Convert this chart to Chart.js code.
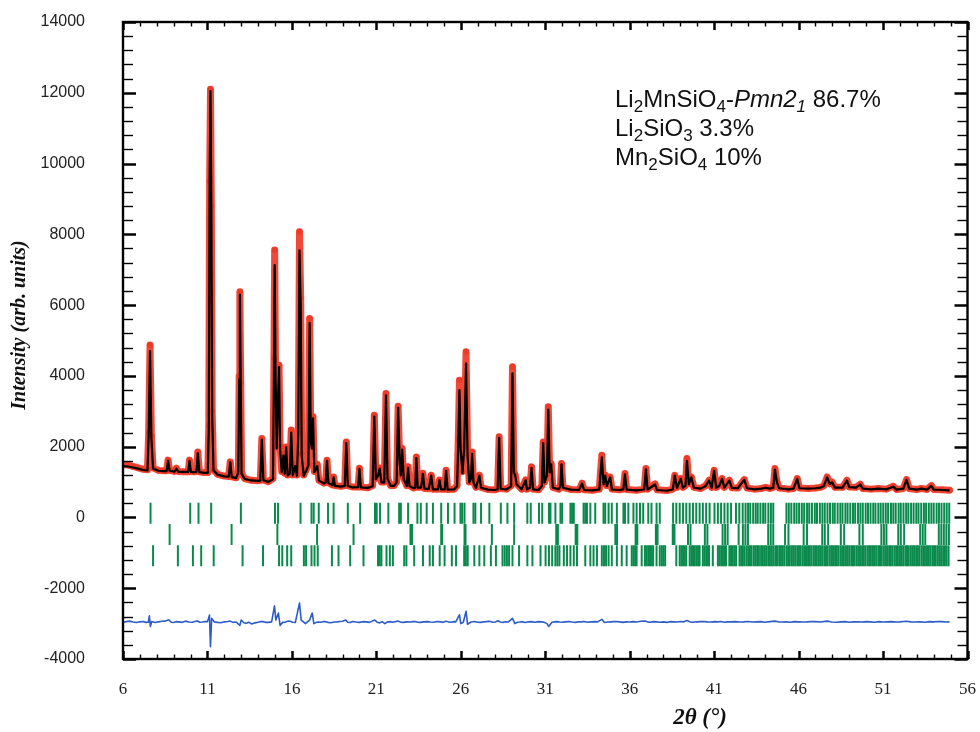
<!DOCTYPE html>
<html><head><meta charset="utf-8">
<script src="https://cdn.jsdelivr.net/npm/chart.js@4/dist/chart.umd.min.js"></script>
<style>html,body{margin:0;padding:0;background:#fff;}canvas{display:block;}</style>
</head><body>
<canvas id="c" width="980" height="732"></canvas>
<script>
// ---- data ----
const twoTheta = [
 6.00,6.30,6.60,6.90,7.20,7.45,7.52,7.60,7.68,7.78,
 8.10,8.40,8.58,8.67,8.76,9.05,9.16,9.27,9.60,9.86,
 9.94,10.02,10.20,10.35,10.43,10.52,10.80,11.02,11.08,11.13,
 11.18,11.23,11.28,11.36,11.60,12.00,12.26,12.35,12.44,12.70,
 12.83,12.88,12.92,12.97,13.02,13.20,13.60,14.00,14.13,14.22,
 14.31,14.60,14.88,14.94,14.98,15.03,15.10,15.17,15.24,15.30,
 15.40,15.50,15.58,15.66,15.75,15.88,15.96,16.05,16.20,16.30,
 16.38,16.45,16.52,16.58,16.70,16.85,16.98,17.05,17.12,17.18,
 17.25,17.33,17.50,17.60,17.90,18.00,18.08,18.16,18.40,18.47,
 18.55,18.90,19.13,19.22,19.31,19.60,19.92,20.00,20.08,20.50,
 20.78,20.88,20.97,21.10,21.20,21.30,21.47,21.57,21.66,21.85,
 22.05,22.20,22.29,22.38,22.45,22.53,22.62,22.80,22.88,22.96,
 23.20,23.30,23.37,23.45,23.65,23.76,23.85,24.10,24.25,24.35,
 24.65,24.74,24.83,25.05,25.13,25.22,25.60,25.78,25.85,25.92,
 25.99,26.10,26.20,26.31,26.40,26.50,26.60,26.67,26.75,26.90,
 27.10,27.20,27.60,28.00,28.18,28.27,28.36,28.70,28.98,29.06,
 29.14,29.22,29.30,29.60,29.84,29.92,30.10,30.19,30.28,30.60,
 30.80,30.88,30.96,31.10,31.18,31.26,31.35,31.45,31.80,31.90,
 31.96,32.05,32.50,33.00,33.18,33.30,33.80,34.20,34.35,34.45,
 34.55,34.65,34.84,34.95,35.40,35.62,35.72,35.82,36.40,36.86,
 36.96,37.06,37.50,37.62,38.20,38.55,38.67,38.80,39.02,39.15,
 39.30,39.39,39.50,39.65,39.80,40.20,40.50,40.70,40.85,41.00,
 41.12,41.30,41.47,41.60,41.90,42.05,42.40,42.78,42.95,43.40,
 43.80,44.06,44.30,44.50,44.60,44.72,44.85,45.40,45.70,45.92,
 46.05,46.60,47.00,47.30,47.50,47.69,47.85,47.98,48.15,48.60,
 48.86,49.00,49.40,49.65,49.80,50.30,50.72,51.20,51.60,51.80,
 52.20,52.39,52.55,53.00,53.27,53.60,53.86,54.00,54.50,54.94
];
const observed = [
 1500,1480,1440,1400,1360,1350,2400,4870,2300,1400,
 1330,1320,1320,1620,1330,1300,1390,1300,1290,1290,
 1620,1300,1290,1300,1850,1290,1270,1270,2600,9500,
 12100,8800,3000,1350,1220,1170,1160,1570,1150,1120,
 1300,4000,6380,3800,1250,1100,1050,1040,1050,2230,
 1060,1010,1100,4500,7560,4200,2000,3300,4300,2000,
 1300,1800,1250,1990,1200,1250,2470,1200,1500,1200,
 2500,8070,6200,1800,1200,1350,1500,5625,2200,2000,
 2843,1300,1500,1050,970,1000,1617,980,920,1145,
 900,880,900,2135,900,860,860,1390,860,840,
 900,2890,1100,1200,1400,1000,1000,3504,1100,900,
 900,1000,3145,1600,1200,1950,1100,900,1430,900,
 830,850,1710,850,850,1250,820,810,1194,800,
 800,1060,800,800,1335,790,800,900,2200,3880,
 2000,1300,2000,4681,1800,1000,1100,1852,1000,850,
 1194,850,790,780,800,2277,820,800,900,4257,
 1300,1200,950,800,1060,800,850,1429,800,780,
 900,2135,1000,1200,3126,1300,1523,850,800,900,
 1523,850,790,780,970,780,770,800,1759,950,
 1200,900,1145,800,780,800,1240,790,770,800,
 1382,800,950,780,760,800,1194,850,1100,850,
 900,1664,950,1145,850,820,900,1050,850,1335,
 850,900,1100,850,1050,840,830,1070,830,800,
 820,850,820,850,1382,1000,830,800,820,1100,
 830,820,830,850,900,1145,950,1000,850,850,
 1050,860,850,940,820,800,820,800,880,790,
 820,1070,820,790,820,790,900,790,780,770
];
const calculated = [
 1450,1440,1410,1380,1340,1330,2300,4700,2250,1380,
 1320,1310,1310,1600,1320,1295,1380,1290,1285,1285,
 1600,1290,1280,1290,1820,1280,1260,1260,2500,9600,
 12050,8700,2900,1330,1210,1160,1150,1560,1140,1110,
 1280,3900,6300,3700,1230,1090,1045,1035,1040,2200,
 1050,1005,1080,4300,7130,4100,1950,3250,4250,1950,
 1280,1750,1240,1980,1190,1240,2400,1190,1450,1180,
 2400,7550,6000,1750,1180,1320,1480,5500,2150,1950,
 2800,1280,1450,1040,960,990,1600,970,910,1130,
 890,870,890,2100,890,850,855,1370,850,835,
 880,2850,1080,1180,1380,990,990,3450,1090,890,
 890,990,3100,1580,1190,1920,1090,890,1400,890,
 825,840,1680,840,840,1230,815,805,1180,795,
 795,1050,795,795,1320,785,790,880,2100,3600,
 1900,1250,1950,4353,1750,990,1090,1800,990,840,
 1180,840,785,775,790,2250,810,790,880,4070,
 1280,1190,940,795,1050,795,840,1400,795,775,
 890,2100,990,1180,3050,1280,1500,840,795,890,
 1500,840,785,775,960,775,765,790,1700,940,
 1180,890,1130,790,775,795,1220,785,765,790,
 1360,790,930,775,755,790,1180,840,1090,840,
 890,1600,940,1130,840,815,890,1040,840,1320,
 840,890,1090,845,1040,835,825,1060,825,795,
 815,840,815,840,1350,990,825,795,815,1090,
 825,815,825,845,890,1130,940,990,845,845,
 1040,855,845,930,815,795,815,795,870,785,
 815,1060,815,785,815,785,890,785,775,765
];
const diffTwoTheta = [
 6.0,6.2,6.4,6.6,6.8,7.0,7.2,7.35,7.5,7.56,7.62,7.7,7.9,8.1,8.3,8.5,8.7,8.85,9.0,9.15,9.3,9.5,9.7,9.9,10.1,10.25,10.4,10.55,10.7,10.85,
 11.0,11.12,11.18,11.25,11.4,11.6,11.8,12.0,12.2,12.35,12.5,12.7,12.92,13.0,13.15,13.3,13.45,13.6,13.8,14.0,14.15,14.3,14.45,14.6,14.8,
 14.97,15.05,15.2,15.3,15.45,15.6,15.75,15.9,16.05,16.2,16.45,16.55,16.7,16.8,16.95,17.05,17.2,17.3,17.5,17.7,17.85,
 18.0,18.15,18.3,18.5,18.7,18.85,19.0,19.2,19.3,19.45,19.6,19.8,20.0,20.2,20.4,20.6,20.9,21.05,21.2,21.35,21.5,21.65,21.8,22.0,22.15,22.3,22.45,22.6,22.8,
 23.0,23.15,23.3,23.45,23.6,23.8,24.0,24.2,24.4,24.6,24.8,24.95,25.1,25.25,25.4,25.55,25.7,25.92,26.0,26.15,26.31,26.4,26.6,26.8,27.0,
 27.2,27.35,27.5,27.7,27.9,28.05,28.2,28.35,28.5,28.65,28.8,29.06,29.2,29.35,29.5,29.65,29.8,29.95,30.1,30.25,30.4,30.6,30.8,30.95,31.1,31.2,31.4,31.55,
 31.7,31.85,32.0,32.2,32.4,32.6,32.8,32.95,33.1,33.3,33.5,33.7,33.9,34.1,34.35,34.5,34.7,34.9,35.05,35.2,35.4,35.6,35.8,36.0,36.2,36.4,36.65,36.9,
 37.05,37.2,37.4,37.6,37.8,38.0,38.2,38.4,38.6,38.8,39.0,39.2,39.4,39.55,39.7,39.85,40.0,40.2,40.4,40.6,40.8,41.0,41.2,41.4,41.6,41.8,42.0,42.25,42.5,42.75,43.0,43.25,43.5,43.75,
 44.0,44.3,44.6,44.8,45.0,45.25,45.5,45.75,46.0,46.25,46.5,46.75,47.0,47.3,47.7,47.9,48.0,48.25,48.5,48.75,49.0,49.25,49.5,49.75,50.0,50.25,50.5,50.75,51.0,
 51.25,51.5,51.75,52.0,52.2,52.4,52.65,52.9,53.2,53.5,53.75,54.0,54.25,54.5,54.7,54.94
];
const difference = [
 -2960,-2945,-2930,-2955,-2970,-2950,-2940,-2965,-2960,-2780,-3080,-2940,-2970,-2950,-2935,-2930,-2890,-2960,-2970,-2945,-2950,-2965,-2930,-2955,-2960,-2940,-2925,-2960,-2955,-2940,
 -2945,-2760,-3650,-2850,-2950,-2965,-2975,-2950,-2940,-2930,-2965,-2955,-3050,-2900,-2975,-2990,-2960,-3010,-2980,-2960,-2940,-2945,-2965,-2965,-2950,
 -2500,-2900,-2700,-3050,-2965,-2960,-2930,-2935,-2960,-2970,-2420,-2900,-2960,-3000,-2940,-2900,-2700,-3000,-2955,-2960,-2945,
 -2945,-2965,-2975,-2955,-2950,-2940,-2935,-2900,-2960,-2970,-2940,-2955,-2965,-2945,-2950,-2965,-2900,-2960,-2980,-2945,-3000,-2955,-2945,-2960,-2940,-2930,-2960,-2965,-2950,
 -2955,-2945,-2940,-2960,-2965,-2950,-2945,-2955,-2960,-2940,-2950,-2965,-2935,-2950,-2960,-2945,-2950,-2750,-3000,-2960,-2650,-3020,-2955,-2940,-2960,
 -2965,-2950,-2945,-2935,-2960,-2955,-2920,-2955,-2965,-2950,-2955,-2850,-3000,-2960,-2955,-2945,-2970,-2955,-2945,-2950,-2960,-2945,-2950,-2965,-3000,-3080,-2960,-2950,
 -2945,-2955,-2960,-2950,-2940,-2955,-2965,-2950,-2950,-2940,-2960,-2950,-2945,-2950,-2880,-2970,-2955,-2950,-2945,-2940,-2950,-2965,-2950,-2955,-2945,-2955,-2935,-2925,
 -2950,-2960,-2945,-2950,-2960,-2950,-2965,-2945,-2950,-2955,-2940,-2950,-2915,-2945,-2960,-2955,-2950,-2945,-2940,-2950,-2955,-2945,-2950,-2940,-2960,-2950,-2950,-2945,-2955,-2950,-2940,-2955,-2950,-2945,
 -2960,-2945,-2930,-2950,-2955,-2950,-2960,-2945,-2950,-2955,-2950,-2940,-2945,-2955,-2930,-2950,-2955,-2960,-2950,-2945,-2960,-2950,-2950,-2955,-2945,-2950,-2960,-2945,-2955,
 -2950,-2945,-2955,-2950,-2940,-2935,-2950,-2955,-2950,-2960,-2945,-2950,-2940,-2945,-2955,-2950
];
const braggLi2MnSiO4 = [
 7.63,9.98,10.47,11.22,12.98,15.0,15.18,16.51,17.16,17.29,17.59,18.14,18.47,19.31,20.04,20.92,21.02,21.22,21.71,
 22.35,22.45,22.88,23.43,23.63,23.98,24.35,24.84,25.24,25.63,25.98,26.08,26.22,26.75,26.86,27.2,27.69,28.37,28.76,
 29.16,29.94,30.14,30.63,30.82,31.22,31.31,31.6,31.9,32.0,32.49,32.59,32.69,33.27,33.37,33.47,33.67,33.96,34.45,
 34.55,34.75,34.94,35.24,35.63,35.72,35.92,36.22,36.41,36.61,36.8,37.1,37.29,37.59,37.78,38.57,38.76,38.96,39.16,
 39.35,39.55,39.75,39.94,40.14,40.33,40.53,40.73,41.02,41.22,41.41,41.61,41.8,42.0,42.29,42.49,42.69,42.86,43.01,
 43.14,43.31,43.46,43.58,43.74,43.9,44.03,44.21,44.36,44.5,45.28,45.42,45.57,45.74,45.88,46.03,46.19,46.33,46.5,
 46.63,46.79,46.96,47.09,47.26,47.41,47.55,47.71,47.86,48.02,48.14,48.31,48.47,48.6,48.77,48.9,49.06,49.22,49.35,
 49.52,49.66,49.8,49.97,50.11,50.26,50.42,50.55,50.72,50.86,51.01,51.16,51.3,51.47,51.61,51.75,51.92,52.05,52.21,
 52.37,52.5,52.66,52.81,52.97,53.1,53.26,53.42,53.55,53.71,53.86,54.0,54.17,54.31,54.46,54.62,54.77,54.92
];
const braggLi2SiO3 = [
 8.76,12.43,15.14,17.49,19.65,23.02,23.08,23.12,24.84,24.9,26.22,26.28,27.84,29.16,31.65,31.7,31.75,32.8,32.85,32.9,
 35.15,35.2,35.25,36.35,36.4,36.45,37.55,37.6,37.65,38.55,38.6,38.65,39.45,39.6,40.45,40.6,41.5,41.65,41.8,
 42.45,42.7,42.85,43.0,44.2,44.35,44.5,45.2,45.4,46.3,46.5,47.4,47.55,47.75,48.5,48.7,49.6,49.8,50.9,51.05,51.2,
 51.9,52.05,52.25,53.2,53.35,53.5,54.3,54.45,54.6,54.75,54.9
];
const braggMn2SiO4 = [
 7.78,9.25,10.14,10.63,11.37,13.08,14.29,15.24,15.43,15.72,15.96,16.71,16.84,17.16,17.34,17.53,18.37,18.76,19.45,
 20.24,21.1,21.2,21.3,21.6,21.8,21.98,22.65,22.78,23.24,23.76,24.16,24.35,24.75,25.04,25.47,25.72,26.2,26.3,26.41,
 26.8,27.1,27.39,27.78,28.08,28.47,28.6,28.73,28.86,29.06,29.45,29.94,30.24,30.72,31.02,31.22,31.41,31.6,31.72,
 31.84,32.1,32.29,32.49,32.69,32.88,33.37,33.67,33.86,34.06,34.35,34.48,34.6,34.75,34.94,35.24,35.53,35.82,36.12,
 36.22,36.32,36.41,36.71,36.9,37.0,37.1,37.2,37.3,37.39,37.59,37.78,37.9,38.0,38.1,38.76,38.96,39.06,39.16,39.26,
 39.35,39.55,39.65,39.75,39.85,39.95,40.05,40.14,40.33,40.43,40.53,40.62,40.7,40.92,41.22,41.32,41.42,41.52,41.62,
 41.7,41.9,42.0,42.1,42.2,42.3,42.5,42.6,42.7,42.8,42.92,43.02,43.12,43.22,43.35,43.45,43.55,43.65,43.78,43.88,
 43.98,44.08,44.2,44.3,44.4,44.5,44.62,44.72,44.85,44.95,45.05,45.15,45.28,45.38,45.48,45.6,45.7,45.8,45.92,46.02,
 46.12,46.24,46.34,46.44,46.56,46.66,46.76,46.88,46.98,47.08,47.2,47.3,47.4,47.52,47.62,47.72,47.84,47.94,48.04,
 48.16,48.26,48.36,48.48,48.58,48.68,48.8,48.9,49.0,49.12,49.22,49.32,49.44,49.54,49.64,49.76,49.86,49.96,50.08,
 50.18,50.28,50.4,50.5,50.6,50.72,50.82,50.92,51.04,51.14,51.24,51.36,51.46,51.56,51.68,51.78,51.88,52.0,52.1,
 52.2,52.32,52.42,52.52,52.64,52.74,52.84,52.96,53.06,53.16,53.28,53.38,53.48,53.6,53.7,53.8,53.92,54.02,54.12,
 54.24,54.34,54.44,54.56,54.66,54.76,54.88
];
const braggRowLevels = [120, -480, -1080];
const xTickLabels = [6,11,16,21,26,31,36,41,46,51,56];
const yTickLabels = [-4000,-2000,0,2000,4000,6000,8000,10000,12000,14000];
const phaseLines = [
 [['Li',''],['2','sub'],['MnSiO',''],['4','sub'],['-',''],['Pmn2','it'],['1','itsub'],[' 86.7%','']],
 [['Li',''],['2','sub'],['SiO',''],['3','sub'],[' 3.3%','']],
 [['Mn',''],['2','sub'],['SiO',''],['4','sub'],[' 10%','']]
];

// ---- chart ----
const pts = (xs, ys) => xs.map((v, i) => ({x: v, y: ys[i]}));
const tickPts = (xs, level) => xs.map(v => ({x: v, y: level}));
const braggStyle = {type: 'scatter', showLine: false, pointStyle: 'line', rotation: 90,
  pointRadius: 10.5, pointHoverRadius: 10.5, borderWidth: 2, borderColor: '#0a8a4c', backgroundColor: '#0a8a4c'};
const noPad = s => { s.paddingTop = 0; s.paddingBottom = 0; s.paddingLeft = 0; s.paddingRight = 0; };

const framePlugin = {
  id: 'framePlugin',
  afterDatasetsDraw(chart) {
    const {ctx, chartArea: a, scales: {x, y}} = chart;
    ctx.save();
    ctx.strokeStyle = '#000';
    const seg = (x1, y1, x2, y2, w) => { ctx.lineWidth = w; ctx.beginPath(); ctx.moveTo(x1, y1); ctx.lineTo(x2, y2); ctx.stroke(); };
    for (let v = 6; v <= 56; v += 1) {
      const px = Math.round(x.getPixelForValue(v)) + 0.5;
      const major = xTickLabels.includes(v);
      const len = major ? 8 : 4.5, w = major ? 2.5 : 1.4;
      seg(px, a.bottom, px, a.bottom - len, w);
      seg(px, a.top, px, a.top + len, w);
    }
    for (let v = -4000; v <= 14000; v += 400) {
      const py = Math.round(y.getPixelForValue(v)) + 0.5;
      const major = yTickLabels.includes(v);
      const len = major ? 13 : 10, w = major ? 2.5 : 1.4;
      seg(a.left, py, a.left + len, py, w);
      seg(a.right, py, a.right - len, py, w);
    }
    ctx.lineWidth = 2.4;
    ctx.strokeRect(a.left, a.top, a.right - a.left, a.bottom - a.top);

    // axis titles
    ctx.fillStyle = '#111';
    ctx.textAlign = 'center'; ctx.textBaseline = 'middle';
    ctx.font = 'italic bold 23px "Liberation Serif"';
    ctx.fillText('2θ (°)', 700, 718);
    ctx.save();
    ctx.translate(20, 325); ctx.rotate(-Math.PI / 2);
    ctx.font = 'italic bold 20px "Liberation Serif"';
    ctx.fillText('Intensity (arb. units)', 0, 0);
    ctx.restore();

    // phase annotation
    ctx.textAlign = 'left'; ctx.textBaseline = 'alphabetic';
    const size = 24, subSize = 17;
    const baselines = [107, 136, 165];
    phaseLines.forEach((line, i) => {
      let cx = 615;
      line.forEach(([t, s]) => {
        const sub = s === 'sub' || s === 'itsub';
        const it = s === 'it' || s === 'itsub';
        ctx.font = (it ? 'italic ' : '') + (sub ? subSize : size) + 'px "Liberation Sans"';
        ctx.fillText(t, cx, baselines[i] + (sub ? 5 : 0));
        cx += ctx.measureText(t).width;
      });
    });
    ctx.restore();
  }
};

new Chart(document.getElementById('c'), {
  type: 'scatter',
  data: {
    datasets: [
      {label: 'Ycalc', data: pts(twoTheta, calculated), showLine: true, borderColor: '#000', borderWidth: 2.2,
       borderJoinStyle: 'round', pointRadius: 0, order: 0},
      {label: 'Yobs', data: pts(twoTheta, observed), showLine: true, borderColor: 'rgba(240,58,40,0.92)', borderWidth: 7,
       borderJoinStyle: 'round', borderCapStyle: 'round',
       pointRadius: 3, pointBackgroundColor: '#f03a28', pointBorderWidth: 0, order: 1},
      {label: 'Yobs-Ycalc', data: pts(diffTwoTheta, difference), showLine: true, borderColor: '#2c5cc6', borderWidth: 1.6,
       borderJoinStyle: 'round', pointRadius: 0, order: 2},
      Object.assign({label: 'Li2MnSiO4', data: tickPts(braggLi2MnSiO4, braggRowLevels[0]), order: 3}, braggStyle),
      Object.assign({label: 'Li2SiO3', data: tickPts(braggLi2SiO3, braggRowLevels[1]), order: 4}, braggStyle),
      Object.assign({label: 'Mn2SiO4', data: tickPts(braggMn2SiO4, braggRowLevels[2]), order: 5}, braggStyle)
    ]
  },
  options: {
    responsive: false, animation: false, events: [],
    layout: {padding: {top: 22, right: 8, left: 0, bottom: 0}},
    plugins: {legend: {display: false}, tooltip: {enabled: false}},
    scales: {
      x: {
        type: 'linear', min: 6, max: 56,
        afterBuildTicks: s => { s.ticks = xTickLabels.map(v => ({value: v})); },
        afterFit: s => { s.height = 73; noPad(s); },
        grid: {display: false, drawTicks: false}, border: {display: false},
        ticks: {padding: 20, maxRotation: 0, autoSkip: false, color: '#222',
                callback: v => String(v),
                font: {family: '"Liberation Serif"', size: 17}}
      },
      y: {
        type: 'linear', min: -4000, max: 14000,
        afterBuildTicks: s => { s.ticks = yTickLabels.map(v => ({value: v})); },
        afterFit: s => { s.width = 123; noPad(s); },
        grid: {display: false, drawTicks: false}, border: {display: false},
        ticks: {padding: 38, autoSkip: false, color: '#222',
                callback: v => String(v),
                font: {family: '"Liberation Sans"', size: 16}}
      }
    }
  },
  plugins: [framePlugin]
});
</script>
</body></html>
